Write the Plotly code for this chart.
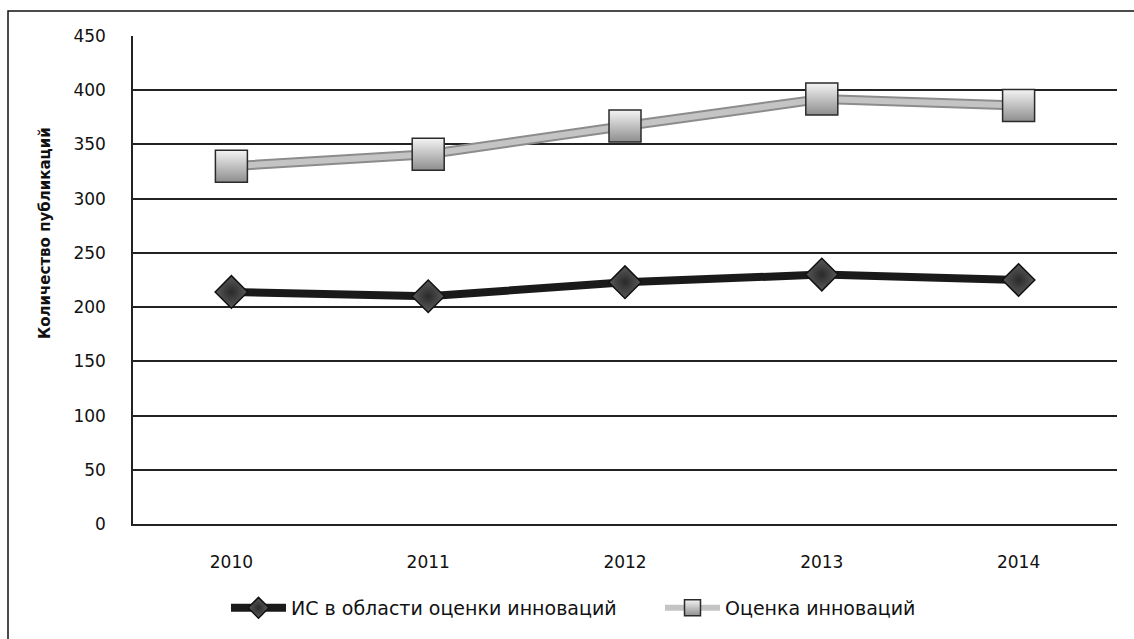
import plotly.graph_objects as go

years = ["2010", "2011", "2012", "2013", "2014"]
is_values = [214, 210, 223, 230, 225]
ocenka_values = [330, 341, 367, 392, 386]
y_ticks = [0, 50, 100, 150, 200, 250, 300, 350, 400, 450]

name_is = "ИС в области оценки инноваций"
name_oc = "Оценка инноваций"
y_title = "Количество публикаций"
font_family = "DejaVu Sans"

fig = go.Figure()

# gray series: darker underlay for edge shading
fig.add_trace(go.Scatter(
    x=years, y=ocenka_values, mode="lines",
    line=dict(color="#8c8c8c", width=10),
    showlegend=False, hoverinfo="skip",
))
fig.add_trace(go.Scatter(
    x=years, y=ocenka_values, mode="lines+markers", name=name_oc,
    line=dict(color="#c4c4c4", width=6),
    marker=dict(symbol="square", size=32, color="#f4f4f4",
                gradient=dict(type="vertical", color="#8e8e8e"),
                line=dict(color="#2a2a2a", width=1.5)),
))
fig.add_trace(go.Scatter(
    x=years, y=is_values, mode="lines+markers", name=name_is,
    line=dict(color="#1a1a1a", width=8),
    marker=dict(symbol="diamond", size=25, color="#5a5a5a",
                gradient=dict(type="radial", color="#2a2a2a"),
                line=dict(color="#111111", width=1.5)),
))

fig.update_layout(
    width=1134, height=639,
    margin=dict(l=133, r=17, t=36, b=115),
    paper_bgcolor="white", plot_bgcolor="white",
    font=dict(family=font_family, size=17, color="#111111"),
    showlegend=True,
    legend=dict(orientation="h", x=(226 - 133) / 984, xanchor="left",
                y=-0.172, yanchor="middle",
                traceorder="reversed", font=dict(size=19), itemwidth=55,
                entrywidth=364, entrywidthmode="pixels",
                bgcolor="rgba(0,0,0,0)"),
    xaxis=dict(type="category", range=[-0.5, 4.5], showgrid=False, showline=True,
               linecolor="#222222", linewidth=1.5, ticks="", ticklabelstandoff=22,
               tickfont=dict(size=17)),
    yaxis=dict(range=[0, 450], tickvals=y_ticks, showgrid=True, gridcolor="#222222",
               gridwidth=1.5, showline=True, linecolor="#222222", linewidth=1.5,
               zeroline=False, ticks="", ticklabelstandoff=22,
               tickfont=dict(size=17)),
    annotations=[dict(text=y_title, textangle=-90, xref="paper", yref="paper",
                      x=(45 - 133) / 984, y=(524 - 233) / 488,
                      xanchor="center", yanchor="middle", showarrow=False,
                      font=dict(size=15, weight="bold", color="#111111"))],
    shapes=[dict(type="rect", xref="paper", yref="paper",
                 x0=(8 - 133) / 984, x1=1.2, y0=-0.4, y1=(524 - 11) / 488,
                 line=dict(color="#111111", width=1.5), layer="below")],
)

fig.write_html("out.html")
